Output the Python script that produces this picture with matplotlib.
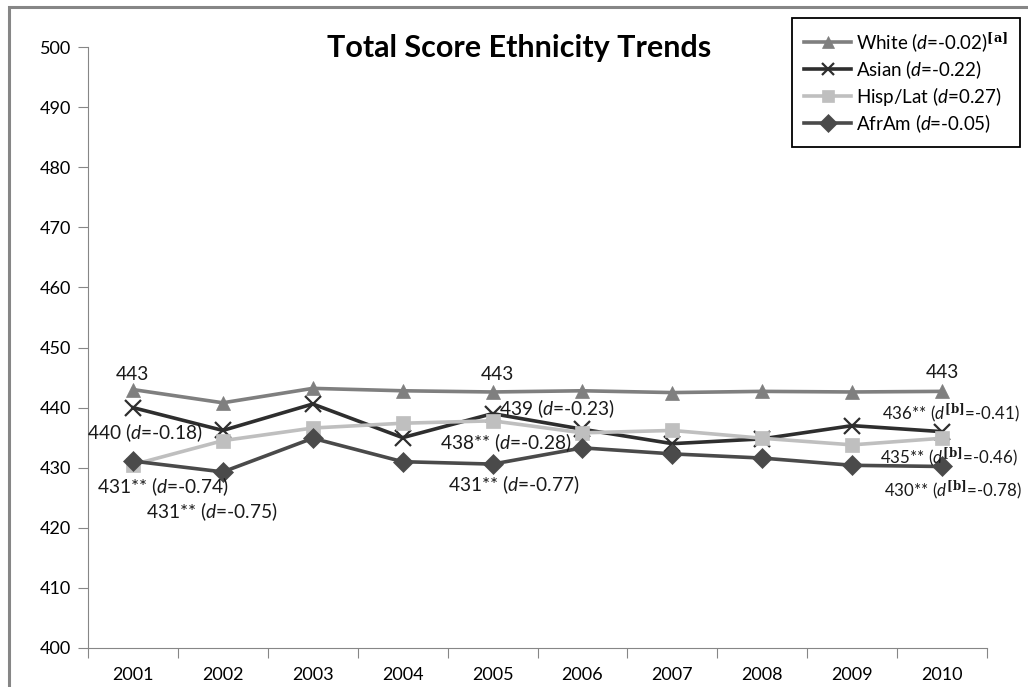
import matplotlib
matplotlib.use("Agg")
import matplotlib.pyplot as plt
from matplotlib.patches import Rectangle

plt.rcParams['font.family'] = ['Lato', 'DejaVu Sans']
plt.rcParams['mathtext.fontset'] = 'custom'
plt.rcParams['mathtext.rm'] = 'Lato'
plt.rcParams['mathtext.it'] = 'Lato:italic'
plt.rcParams['mathtext.bf'] = 'DejaVu Serif:bold'

# values
years = ['2001', '2002', '2003', '2004', '2005', '2006', '2007', '2008', '2009', '2010']
white = [443.0, 440.8, 443.2, 442.8, 442.6, 442.8, 442.5, 442.7, 442.6, 442.7]
asian = [440.0, 436.2, 440.6, 435.0, 439.0, 436.4, 434.0, 434.8, 437.0, 436.0]
hisp = [430.5, 434.5, 436.6, 437.4, 437.8, 435.8, 436.2, 434.9, 433.8, 434.9]
afram = [431.1, 429.3, 434.9, 431.0, 430.6, 433.3, 432.3, 431.6, 430.4, 430.2]

series_names = [r'White ($d$=-0.02)$^{\mathbf{[a]}}$', r'Asian ($d$=-0.22)',
                r'Hisp/Lat ($d$=0.27)', r'AfrAm ($d$=-0.05)']
series_colors = ['#7f7f7f', '#2e2e2e', '#bfbfbf', '#4a4a4a']
series_markers = ['^', 'x', 's', 'D']

fig = plt.figure(figsize=(10.28, 6.87), dpi=100)
ax = fig.add_axes([88 / 1028, 1 - 648 / 687, (987 - 88) / 1028, (648 - 47) / 687])

x = list(range(len(years)))
all_series = [white, asian, hisp, afram]
for vals, name, col, mk in zip(all_series, series_names, series_colors, series_markers):
    ms = 10 if mk != 'x' else 11
    ax.plot(x, vals, color=col, lw=2.6, marker=mk, markersize=ms,
            markeredgewidth=1.6 if mk == 'x' else 0.5, markeredgecolor=col,
            markerfacecolor=col, label=name)

ax.set_xlim(-0.5, len(years) - 0.5)
ax.set_ylim(400, 500)
ax.set_yticks(range(400, 501, 10))
ax.set_xticks([i - 0.5 for i in range(len(years) + 1)])
ax.set_xticklabels([])
ax.set_xticks(x, minor=True)
ax.set_xticklabels(years, minor=True)
ax.tick_params(axis='x', which='major', length=7, color='#868686', direction='out')
ax.tick_params(axis='x', which='minor', length=0, pad=14, labelsize=13)
ax.tick_params(axis='y', length=7, color='#868686', labelsize=13, pad=5)
for s in ['top', 'right']:
    ax.spines[s].set_visible(False)
for s in ['left', 'bottom']:
    ax.spines[s].set_color('#868686')

# data labels: (series, index, text, dx, dy, ha, size) offsets in pixels
labels = [
    (white, 0, '443', 0, 15, 'center', 13.8),
    (asian, 0, r'440 ($d$=-0.18)', 12, -25, 'center', 13.8),
    (afram, 0, r'431** ($d$=-0.74)', 30, -26, 'center', 13.8),
    (hisp, 0, r'431** ($d$=-0.75)', 79, -47, 'center', 13.8),
    (white, 4, '443', 5, 17, 'center', 13.8),
    (asian, 4, r'439 ($d$=-0.23)', 64, 5, 'center', 13.8),
    (hisp, 4, r'438** ($d$=-0.28)', 13, -22, 'center', 13.8),
    (afram, 4, r'431** ($d$=-0.77)', 21, -21, 'center', 13.8),
    (white, 9, '443', 0, 19, 'center', 13.8),
    (asian, 9, r'436** ($d^{\mathbf{[b]}}$=-0.41)', -60, 18, 'left', 12.2),
    (hisp, 9, r'435** ($d^{\mathbf{[b]}}$=-0.46)', -62, -19, 'left', 12.2),
    (afram, 9, r'430** ($d^{\mathbf{[b]}}$=-0.78)', -58, -24, 'left', 12.2),
]
for vals, i, txt, dx, dy, ha, fs in labels:
    ax.annotate(txt, xy=(i, vals[i]), xytext=(dx, dy), textcoords='offset pixels',
                ha=ha, va='center', fontsize=fs, color='#1a1a1a', annotation_clip=False)

fig.text(519 / 1028, 1 - 48 / 687, 'Total Score Ethnicity Trends', ha='center', va='center',
         fontsize=22, fontweight='bold')

leg = fig.legend(loc='upper left', bbox_to_anchor=(792 / 1028, 1 - 18 / 687),
                 bbox_transform=fig.transFigure, borderaxespad=0, fontsize=13.5,
                 handlelength=2.5, handletextpad=0.25, labelspacing=0.22,
                 fancybox=False, framealpha=1, edgecolor='black', borderpad=0.65)
leg.get_frame().set_linewidth(1.3)
for h in leg.legend_handles:
    h.set_markersize(9)

# outer chart border
fig.patches.append(Rectangle((9 / 1028, -0.05), 1.1, 1 - 7 / 687 + 0.05,
                             transform=fig.transFigure, fill=False,
                             edgecolor='#868686', lw=2.2, zorder=-1))

fig.savefig('out.png', dpi=100)
